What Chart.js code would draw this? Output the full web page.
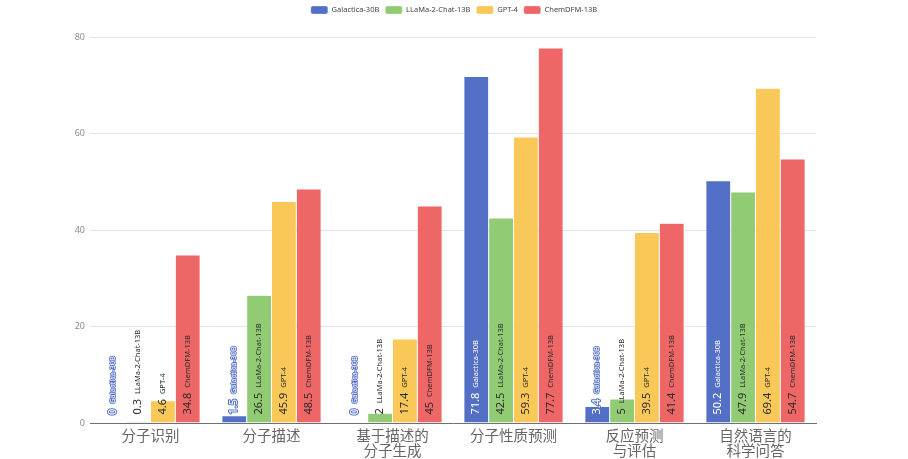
<!DOCTYPE html>
<html>
<head>
<meta charset="utf-8">
<script src="https://cdn.jsdelivr.net/npm/chart.js@4/dist/chart.umd.min.js"></script>
<style>
  html, body { margin: 0; padding: 0; background: #fff; }
  #wrap { width: 908px; height: 459px; position: relative; }
</style>
</head>
<body>
<div id="wrap"><canvas id="c"></canvas></div>
<script>
const categories = [
  '分子识别',
  '分子描述',
  ['基于描述的', '分子生成'],
  '分子性质预测',
  ['反应预测', '与评估'],
  ['自然语言的', '科学问答']
];
const seriesNames = ['Galactica-30B', 'LLaMa-2-Chat-13B', 'GPT-4', 'ChemDFM-13B'];
const galactica = [0, 1.5, 0, 71.8, 3.4, 50.2];
const llama = [0.3, 26.5, 2, 42.5, 5, 47.9];
const gpt4 = [4.6, 45.9, 17.4, 59.3, 39.5, 69.4];
const chemdfm = [34.8, 48.5, 45, 77.7, 41.4, 54.7];
const yTicks = [0, 20, 40, 60, 80];

const colors = ['#5470c6', '#91cc75', '#fac858', '#ee6666'];
const labelFill = ['#ffffff', '#2a2a2a', '#2a2a2a', '#2a2a2a'];
const labelStroke = [true, false, false, false];
const FONT = '"Noto Sans", "Noto Sans CJK SC", sans-serif';

const barLabels = {
  id: 'barLabels',
  afterDatasetsDraw(chart) {
    const ctx = chart.ctx;
    chart.data.datasets.forEach((ds, di) => {
      const meta = chart.getDatasetMeta(di);
      meta.data.forEach((bar, i) => {
        const valStr = String(ds.data[i]);
        ctx.save();
        ctx.translate(bar.x, bar.base - 8);
        ctx.rotate(-Math.PI / 2);
        ctx.textAlign = 'left';
        ctx.textBaseline = 'middle';
        ctx.lineJoin = 'round';
        ctx.strokeStyle = colors[di];
        ctx.fillStyle = labelFill[di];
        ctx.font = '11px ' + FONT;
        if (labelStroke[di]) { ctx.lineWidth = 2; ctx.strokeText(valStr, 0, 0); }
        ctx.fillText(valStr, 0, 0);
        const w = ctx.measureText(valStr + ' ').width + 2;
        ctx.font = '7.5px ' + FONT;
        if (labelStroke[di]) { ctx.lineWidth = 1.6; ctx.strokeText(ds.label, w, 0); }
        ctx.fillText(ds.label, w, 0);
        ctx.restore();
      });
    });
  }
};

const seriesData = [galactica, llama, gpt4, chemdfm];
const datasets = seriesNames.map((n, k) => ({
  label: n,
  data: seriesData[k],
  backgroundColor: colors[k],
  borderColor: 'rgba(255,255,255,0.5)',
  borderWidth: 0.5,
  categoryPercentage: 0.82,
  barPercentage: 1.0
}));

new Chart(document.getElementById('c'), {
  type: 'bar',
  data: { labels: categories, datasets },
  options: {
    responsive: true,
    maintainAspectRatio: false,
    animation: false,
    layout: { padding: 0 },
    plugins: {
      legend: {
        position: 'top',
        labels: {
          boxWidth: 17,
          boxHeight: 8,
          padding: 6,
          color: '#444',
          font: { size: 7.5, family: FONT },
          useBorderRadius: true,
          borderRadius: 2
        }
      },
      tooltip: { enabled: false }
    },
    scales: {
      x: {
        grid: { display: false },
        border: { color: '#6E7079', width: 1 },
        ticks: {
          color: '#666',
          font: { size: 14.5, family: FONT, lineHeight: 1.0 },
          padding: -1,
          maxRotation: 0,
          autoSkip: false
        },
        afterFit(s) { s.height = 36; }
      },
      xTop: {
        type: 'category',
        position: 'top',
        grid: { display: false },
        border: { display: false },
        ticks: { display: false },
        afterFit(s) { s.height = 13; }
      },
      y: {
        min: 0,
        max: 80,
        afterBuildTicks(s) { s.ticks = yTicks.map(v => ({ value: v })); },
        grid: { color: '#E0E6F1', drawTicks: false },
        border: { display: false },
        ticks: {
          color: '#8a8d96',
          font: { size: 9, family: FONT },
          padding: 5
        },
        afterFit(s) { s.width = 90; }
      },
      yRight: {
        type: 'linear',
        position: 'right',
        grid: { display: false },
        border: { display: false },
        ticks: { display: false },
        afterFit(s) { s.width = 92; }
      }
    }
  },
  plugins: [barLabels]
});
</script>
</body>
</html>
